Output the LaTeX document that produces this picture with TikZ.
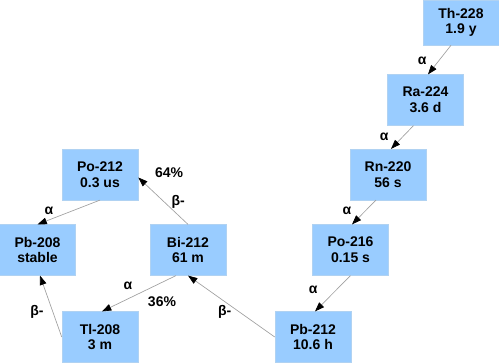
\documentclass[tikz,border=0pt]{standalone}
\usepackage{fontspec}
\setmainfont{Liberation Sans}
\usetikzlibrary{arrows.meta,calc}
\definecolor{boxblue}{HTML}{99CCFF}
\definecolor{boxedge}{HTML}{B0D2F2}
\definecolor{linegray}{HTML}{A0A0A0}

\begin{document}
\begin{tikzpicture}[
  x=0.75pt, y=-0.75pt,
  font=\bfseries\fontsize{10.5}{11.8}\selectfont,
  nuc/.style={draw=boxedge, fill=boxblue, align=center, inner sep=0pt, minimum width=57pt, minimum height=38pt},
  arrow/.style={draw=linegray, line width=0.5pt, -{Triangle[length=7pt, width=5pt, color=black]}},
  lbl/.style={inner sep=0pt}
]
  \useasboundingbox (0,0) rectangle (499,363);

  % thorium chain
  \node[nuc, minimum height=33.75pt] (th) at (461,22.5) {Th-228\\1.9 y};
  \node[nuc] (ra) at (425.5,100) {Ra-224\\3.6 d};
  \node[nuc] (rn) at (388,174.5) {Rn-220\\56 s};
  \node[nuc] (po216) at (350.5,250) {Po-216\\0.15 s};
  \node[nuc] (pb212) at (313,337) {Pb-212\\10.6 h};
  \node[nuc] (bi212) at (188,250) {Bi-212\\61 m};
  \node[nuc] (po212) at (100,174.5) {Po-212\\0.3 us};
  \node[nuc] (tl208) at (100,337) {Tl-208\\3 m};
  \node[nuc] (pb208) at (37.5,250) {Pb-208\\stable};

  \draw[arrow] ($(th.south)+(-10,0)$) -- node[lbl, xshift=-13pt, yshift=-1pt] {α} ($(ra.north)+(2.5,0)$);
  \draw[arrow] ($(ra.south)+(-12,0)$) -- node[lbl, xshift=-13.5pt] {α} ($(rn.north)+(3,0)$);
  \draw[arrow] ($(rn.south)+(-12,0)$) -- node[lbl, xshift=-12.75pt, yshift=1pt] {α} ($(po216.north)+(1.5,0)$);
  \draw[arrow] (po216.south) -- node[lbl, xshift=-14.6pt, yshift=2.6pt] {α} ($(pb212.north)+(2,0)$);
  \draw[arrow] (pb212.west) -- node[lbl, xshift=-5pt, yshift=-4.5pt] {β-} (bi212.south);
  \draw[arrow] ($(bi212.south)+(-12,0)$) -- node[lbl, xshift=-8.25pt, yshift=5.6pt] {α}
    node[lbl, xshift=17.25pt, yshift=-6.4pt] {36\%} ($(tl208.north)+(2,0)$);
  \draw[arrow] (tl208.west) -- node[lbl, xshift=-10.5pt, yshift=-4.5pt] {β-} ($(pb208.south)+(2.5,0)$);
  \draw[arrow] (bi212.north) -- node[lbl, xshift=11.25pt, yshift=-0.75pt] {β-}
    node[lbl, xshift=4.5pt, yshift=21pt] {64\%} ($(po212.east)+(0,3)$);
  \draw[arrow] (po212.south) -- node[lbl, xshift=-14.8pt, yshift=1.1pt] {α} (pb208.north);
\end{tikzpicture}
\end{document}
